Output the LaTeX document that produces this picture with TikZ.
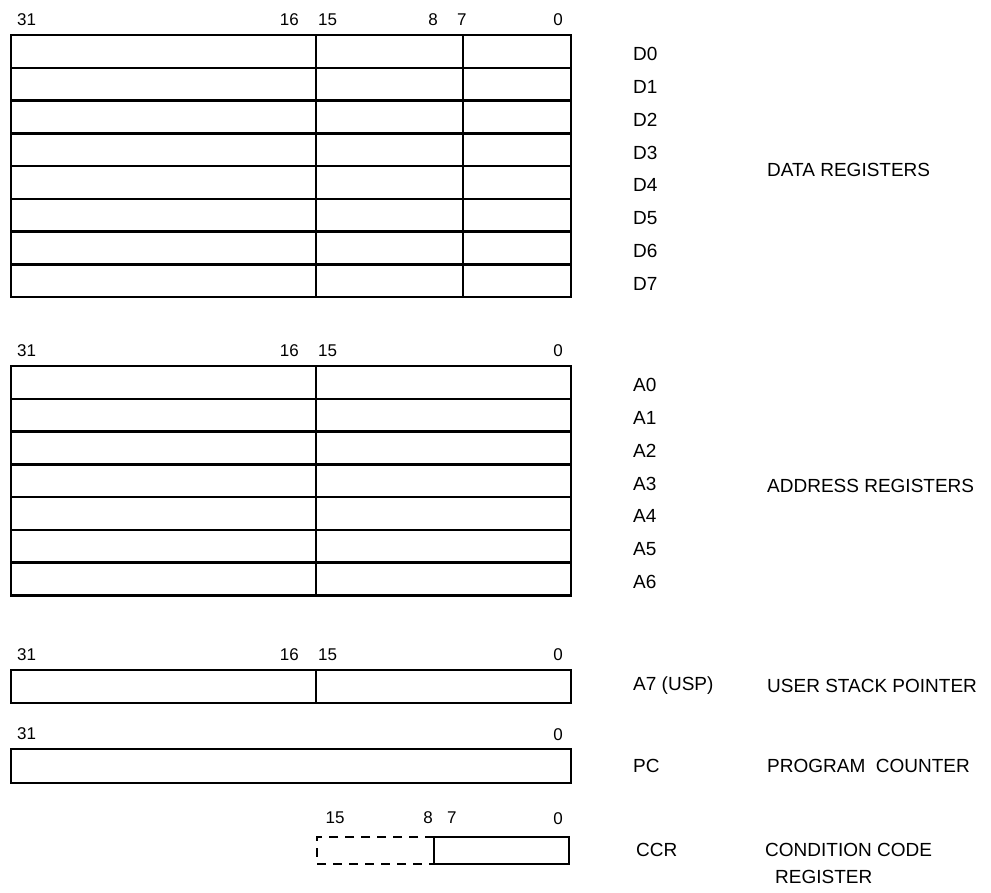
\documentclass[tikz,border=0pt]{standalone}
\usepackage{fontspec}
\setmainfont{Liberation Sans}
\begin{document}
\begin{tikzpicture}[x=1pt,y=-1pt,
  reg/.style={line width=2.5pt},
  bit/.style={font=\fontsize{17}{20}\selectfont, inner sep=0pt},
  lbl/.style={font=\fontsize{19}{22}\selectfont, inner sep=0pt, anchor=west}]
\useasboundingbox (0,0) rectangle (991,892);
% ---------- data registers ----------
\draw[reg] (11,35) rectangle (571,297);
\foreach \i in {1,...,7} \draw[reg] (11,{35+\i*32.75}) -- (571,{35+\i*32.75});
\draw[reg] (316,35) -- (316,297);
\draw[reg] (463,35) -- (463,297);
\node[bit, anchor=base west] (d31) at (17,25) {31};
\node[bit, anchor=base east] (d16) at (299,25) {16};
\node[bit, anchor=base west] (d15) at (318,25) {15};
\node[bit, anchor=base east] (d8) at (438,25) {8};
\node[bit, anchor=base west] (d7) at (457,25) {7};
\node[bit, anchor=base east] (d0) at (563,25) {0};
\foreach \i in {0,...,7} \node[lbl] (D\i) at (633,{35+(\i+0.5)*32.75+3}) {D\i};
\node[lbl] (dreg) at (767,170) {DATA REGISTERS};
% ---------- address registers ----------
\draw[reg] (11,366) rectangle (571,595.25);
\foreach \i in {1,...,6} \draw[reg] (11,{366+\i*32.75}) -- (571,{366+\i*32.75});
\draw[reg] (316,366) -- (316,595.25);
\node[bit, anchor=base west] (a31) at (17,356) {31};
\node[bit, anchor=base east] (a16) at (299,356) {16};
\node[bit, anchor=base west] (a15) at (318,356) {15};
\node[bit, anchor=base east] (a0) at (563,356) {0};
\foreach \i in {0,...,6} \node[lbl] (A\i) at (633,{366+(\i+0.5)*32.75+3}) {A\i};
\node[lbl] (areg) at (767,486) {ADDRESS REGISTERS};
% ---------- A7 ----------
\draw[reg] (11,670) rectangle (571,703);
\draw[reg] (316,670) -- (316,703);
\node[bit, anchor=base west] (u31) at (17,660) {31};
\node[bit, anchor=base east] (u16) at (299,660) {16};
\node[bit, anchor=base west] (u15) at (318,660) {15};
\node[bit, anchor=base east] (u0) at (563,660) {0};
\node[lbl] (usp) at (633,686) {A7 (USP)};
\node[lbl] (uspt) at (767,686) {USER STACK POINTER};
% ---------- PC ----------
\draw[reg] (11,749) rectangle (571,783);
\node[bit, anchor=base west] (p31) at (17,739) {31};
\node[bit, anchor=base east] (p0) at (563,740) {0};
\node[lbl] (pc) at (633,766) {PC};
\node[lbl] (pct) at (767,766) {PROGRAM\ \ COUNTER};
% ---------- CCR ----------
\draw[line width=1.5pt, dash pattern=on 9pt off 7pt] (434,837) -- (317,837) -- (317,864) -- (434,864);
\draw[reg] (434,837) rectangle (569,864);
\node[bit, anchor=base] (c15) at (335,823) {15};
\node[bit, anchor=base east] (c8) at (433,823) {8};
\node[bit, anchor=base west] (c7) at (447,823) {7};
\node[bit, anchor=base east] (c0) at (563,824) {0};
\node[lbl] (ccr) at (636,850) {CCR};
\node[lbl] (ccrt) at (765,850) {CONDITION CODE};
\node[lbl] (ccrt2) at (775,877) {REGISTER};
\end{tikzpicture}
\end{document}
